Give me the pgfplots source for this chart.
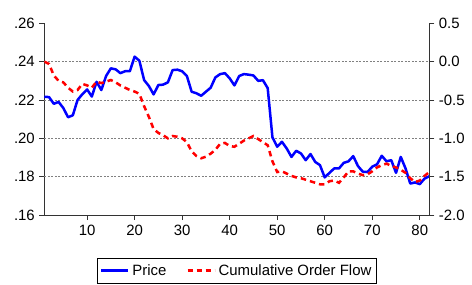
\documentclass[border=0pt]{standalone}
\usepackage{pgfplots}
\pgfplotsset{compat=1.18}
\usepackage{pgfplotstable}
\usepackage{fontspec}
\setmainfont{Liberation Sans}
\pgfplotstableread{
t price flow
1 0.2217 0.00
2 0.2215 -0.03
3 0.2180 -0.18
4 0.2190 -0.25
5 0.2158 -0.27
6 0.2110 -0.34
7 0.2120 -0.39
8 0.2200 -0.37
9 0.2230 -0.29
10 0.2255 -0.31
11 0.2218 -0.34
12 0.2295 -0.26
13 0.2252 -0.28
14 0.2325 -0.26
15 0.2365 -0.24
16 0.2360 -0.27
17 0.2340 -0.31
18 0.2350 -0.34
19 0.2350 -0.37
20 0.2426 -0.39
21 0.2405 -0.42
22 0.2304 -0.58
23 0.2273 -0.72
24 0.2229 -0.88
25 0.2278 -0.93
26 0.2280 -0.96
27 0.2292 -1.00
28 0.2356 -0.97
29 0.2358 -0.98
30 0.2350 -1.00
31 0.2325 -1.05
32 0.2243 -1.17
33 0.2235 -1.23
34 0.2222 -1.26
35 0.2243 -1.24
36 0.2264 -1.20
37 0.2318 -1.15
38 0.2335 -1.07
39 0.2340 -1.06
40 0.2313 -1.10
41 0.2276 -1.11
42 0.2325 -1.07
43 0.2335 -1.03
44 0.2332 -1.00
45 0.2328 -0.97
46 0.2300 -1.01
47 0.2303 -1.05
48 0.2262 -1.09
49 0.2005 -1.30
50 0.1956 -1.44
51 0.1982 -1.43
52 0.1947 -1.46
53 0.1903 -1.49
54 0.1935 -1.51
55 0.1921 -1.52
56 0.1886 -1.54
57 0.1918 -1.56
58 0.1877 -1.58
59 0.1860 -1.60
60 0.1796 -1.60
61 0.1820 -1.56
62 0.1843 -1.55
63 0.1843 -1.58
64 0.1872 -1.51
65 0.1880 -1.43
66 0.1907 -1.43
67 0.1855 -1.46
68 0.1826 -1.48
69 0.1824 -1.47
70 0.1852 -1.43
71 0.1864 -1.38
72 0.1909 -1.35
73 0.1880 -1.33
74 0.1886 -1.36
75 0.1820 -1.38
76 0.1903 -1.41
77 0.1843 -1.45
78 0.1764 -1.52
79 0.1770 -1.57
80 0.1761 -1.55
81 0.1790 -1.49
82 0.1802 -1.44
}\data
\definecolor{gridgray}{RGB}{128,128,128}
\begin{document}
\begin{tikzpicture}
\path[use as bounding box] (-44.3bp,-70bp) rectangle (427.7bp,215bp);
\begin{axis}[
  scale only axis, width=385bp, height=191.7bp,
  xmin=1, xmax=82, ymin=0.16, ymax=0.26,
  axis x line*=bottom, axis y line*=left,
  axis line style={black!80, line width=0.8pt, -},
  tick align=outside, major tick length=5bp,
  tick style={black!80, line width=0.8pt},
  xtick={10,20,...,80},
  ytick={0.16,0.18,0.20,0.22,0.24,0.26},
  yticklabels={.16,.18,.20,.22,.24,.26},
  extra y ticks={0.18,0.20,0.22,0.24},
  extra y tick labels={},
  extra y tick style={grid=major, major tick length=0pt, grid style={gridgray, line width=0.6pt, dash pattern=on 2bp off 1.5bp}},
  /pgf/number format/assume math mode=true,
  tick label style={font=\fontsize{15}{18}\selectfont},
  xticklabel style={yshift=-1.5bp},
  yticklabel style={xshift=-1bp},
  clip=false,
  legend columns=2,
  legend style={at={(0.5,0)}, anchor=center, yshift=-55.5bp, draw=black, line width=0.6pt,
    font=\fontsize{15}{18}\selectfont, inner xsep=3bp, inner ysep=4.5bp,
    /tikz/every odd column/.append style={column sep=1bp},
    /tikz/every even column/.append style={column sep=18bp}},
  legend image code/.code={\draw[#1, line width=2.2bp] (0bp,0bp) -- (27bp,0bp);},
]
\addplot[blue, line width=2.5bp, line join=round] table[x=t, y=price] {\data};
\addlegendentry{Price}
\addlegendimage{red, dash pattern=on 5bp off 4bp}
\addlegendentry{Cumulative Order Flow}
\end{axis}
\begin{axis}[
  scale only axis, width=385bp, height=191.7bp,
  xmin=1, xmax=82, ymin=-2.0, ymax=0.5,
  axis x line=none, axis y line*=right,
  axis line style={black!80, line width=0.8pt, -},
  tick align=outside, major tick length=5bp,
  tick style={black!80, line width=0.8pt},
  ytick={-2.0,-1.5,-1.0,-0.5,0.0,0.5},
  yticklabels={-2.0,-1.5,-1.0,-0.5,0.0,0.5},
  tick label style={font=\fontsize{15}{18}\selectfont},
  yticklabel style={xshift=1bp},
]
\addplot[red, line width=2.5bp, dash pattern=on 5.5bp off 4bp] table[x=t, y=flow] {\data};
\end{axis}
\end{tikzpicture}
\end{document}
